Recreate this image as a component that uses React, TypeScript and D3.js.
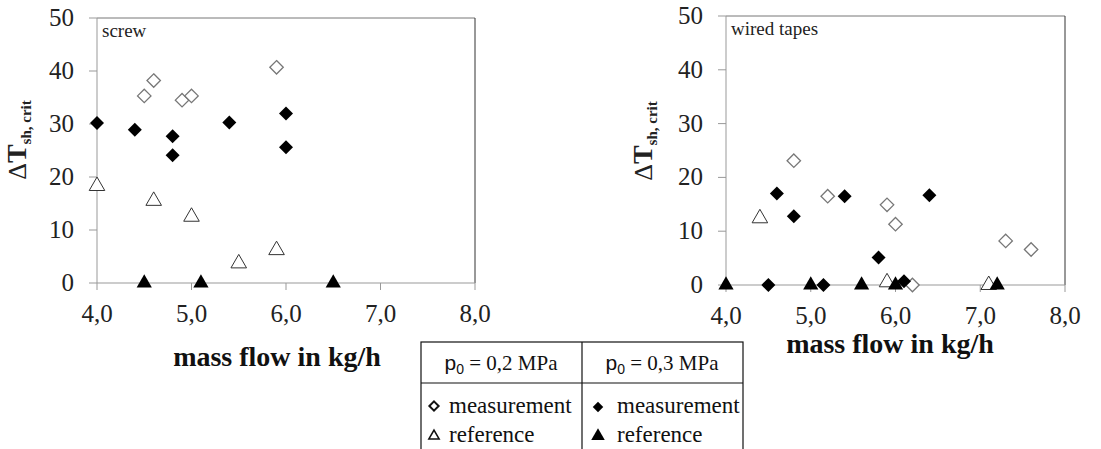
import React from 'react';
import * as d3 from 'd3';

// screw panel
const screwMeas02: [number, number][] = [[4.5, 35.3], [4.6, 38.2], [4.9, 34.5], [5.0, 35.3], [5.9, 40.7]];
const screwRef02: [number, number][] = [[4.0, 18.3], [4.6, 15.5], [5.0, 12.5], [5.5, 3.7], [5.9, 6.2]];
const screwMeas03: [number, number][] = [[4.0, 30.2], [4.4, 28.9], [4.8, 27.7], [4.8, 24.1], [5.4, 30.3], [6.0, 32.0], [6.0, 25.6]];
const screwRef03: [number, number][] = [[4.5, 0], [5.1, 0], [6.5, 0]];

// wired tapes panel
const tapeMeas02: [number, number][] = [[4.8, 23.1], [5.2, 16.5], [5.9, 14.9], [6.0, 11.3], [6.2, 0], [7.3, 8.2], [7.6, 6.6]];
const tapeRef02: [number, number][] = [[4.4, 12.4], [5.9, 0.5], [7.1, 0]];
const tapeMeas03: [number, number][] = [[4.6, 17.0], [4.8, 12.8], [5.4, 16.5], [5.8, 5.1], [6.4, 16.7], [4.5, 0], [5.15, 0], [6.1, 0.7]];
const tapeRef03: [number, number][] = [[4.0, 0], [5.0, 0], [5.6, 0], [6.0, 0], [7.2, 0]];

const xTicks = [4, 5, 6, 7, 8];
const yTicks = [0, 10, 20, 30, 40, 50];
const xTitle = 'mass flow in kg/h';

const serif = "'Liberation Serif', 'Times New Roman', Times, serif";
const sans = "'Liberation Sans', Arial, sans-serif";

const diamond = d3.symbol().type(d3.symbolDiamond2);
const triangle = d3.symbol().type(d3.symbolTriangle);

const fmt = (v: number) => d3.format('.1f')(v).replace('.', ',');

type PanelProps = {
  x0: number; x1: number; y0: number; y1: number;
  label: string;
  titleX: number;
  titleY: number;
  yTitleX: number;
  yTitleY: number;
  meas02: [number, number][]; ref02: [number, number][];
  meas03: [number, number][]; ref03: [number, number][];
};

function Panel(p: PanelProps) {
  const x = d3.scaleLinear().domain([4, 8]).range([p.x0, p.x1]);
  const y = d3.scaleLinear().domain([0, 50]).range([p.y0, p.y1]);
  return (
    <g>
      {/* frame */}
      <line x1={x(4)} x2={x(8)} y1={y(50)} y2={y(50)} stroke="#777" strokeWidth={1} />
      <line x1={x(8)} x2={x(8)} y1={y(50)} y2={y(0)} stroke="#333" strokeWidth={1} />
      <line x1={x(4)} x2={x(4)} y1={y(50)} y2={y(0)} stroke="#999" strokeWidth={1} />
      <line x1={x(4)} x2={x(8)} y1={y(0)} y2={y(0)} stroke="#999" strokeWidth={1} />
      {yTicks.map((t) => (
        <g key={'y' + t}>
          <line x1={x(4) - 8} x2={x(4)} y1={y(t)} y2={y(t)} stroke="#999" />
          <text x={x(4) - 23} y={y(t) + 8} textAnchor="end" style={{ fontSize: 25, fontFamily: serif }} fill="#222">{t}</text>
        </g>
      ))}
      {xTicks.map((t) => (
        <g key={'x' + t}>
          <line x1={x(t)} x2={x(t)} y1={y(0)} y2={y(0) + 7} stroke="#999" />
          <text x={x(t)} y={y(0) + 39} textAnchor="middle" style={{ fontSize: 25, fontFamily: serif }} fill="#222">{fmt(t)}</text>
        </g>
      ))}
      <text x={x(4) + 5} y={y(50) + 19} style={{ fontSize: 19, fontFamily: serif }} fill="#222">{p.label}</text>
      <text x={p.titleX} y={p.titleY} textAnchor="middle" style={{ fontSize: 28, fontWeight: 'bold', fontFamily: serif }} fill="#111">{xTitle}</text>
      <text transform={`translate(${p.yTitleX},${p.yTitleY}) rotate(-90)`} textAnchor="middle" style={{ fontFamily: serif }} fill="#222">
        <tspan style={{ fontSize: 26 }}>Δ</tspan>
        <tspan style={{ fontSize: 28, fontWeight: 'bold' }}>T</tspan>
        <tspan style={{ fontSize: 15, fontWeight: 'bold' }} dy={5}>sh, crit</tspan>
      </text>
      {/* markers */}
      {p.ref02.map((d, i) => (
        <path key={'r2' + i} d={triangle.size(105)() as string} transform={`translate(${x(d[0])},${y(d[1])})`} fill="#fff" stroke="#333" strokeWidth={1} />
      ))}
      {p.meas02.map((d, i) => (
        <path key={'m2' + i} d={diamond.size(115)() as string} transform={`translate(${x(d[0])},${y(d[1])})`} fill="#fff" stroke="#777" strokeWidth={1.3} />
      ))}
      {p.ref03.map((d, i) => (
        <path key={'r3' + i} d={triangle.size(100)() as string} transform={`translate(${x(d[0])},${y(d[1])})`} fill="#000" />
      ))}
      {p.meas03.map((d, i) => (
        <path key={'m3' + i} d={diamond.size(125)() as string} transform={`translate(${x(d[0])},${y(d[1])})`} fill="#000" />
      ))}
    </g>
  );
}

export default function App(): JSX.Element {
  return (
    <svg width={1101} height={449} style={{ position: 'absolute', left: 0, top: 0, background: '#fff', fontFamily: serif }}>
      <rect width={1101} height={449} fill="#fff" />
      <Panel x0={97} x1={475} y0={283} y1={18} label="screw" titleX={277} titleY={366} yTitleX={26} yTitleY={140}
        meas02={screwMeas02} ref02={screwRef02} meas03={screwMeas03} ref03={screwRef03} />
      <Panel x0={726} x1={1065} y0={285} y1={16} label="wired tapes" titleX={890} titleY={353} yTitleX={652} yTitleY={141}
        meas02={tapeMeas02} ref02={tapeRef02} meas03={tapeMeas03} ref03={tapeRef03} />
      {/* legend table */}
      <g fill="#111">
        <rect x={421} y={342} width={322} height={120} fill="#fff" stroke="#111" strokeWidth={1.2} />
        <line x1={421} x2={743} y1={383} y2={383} stroke="#111" strokeWidth={1.2} />
        <line x1={582} x2={582} y1={342} y2={449} stroke="#111" strokeWidth={1.2} />
        <text x={501} y={370} textAnchor="middle" style={{ fontSize: 21, fontFamily: serif }}>
          <tspan style={{ fontFamily: sans }}>p</tspan><tspan style={{ fontFamily: sans, fontSize: 14 }} dy={4}>0</tspan><tspan dy={-4}> = 0,2 MPa</tspan>
        </text>
        <text x={662} y={370} textAnchor="middle" style={{ fontSize: 21, fontFamily: serif }}>
          <tspan style={{ fontFamily: sans }}>p</tspan><tspan style={{ fontFamily: sans, fontSize: 14 }} dy={4}>0</tspan><tspan dy={-4}> = 0,3 MPa</tspan>
        </text>
        <path d={diamond.size(55)() as string} transform="translate(434,406)" fill="#fff" stroke="#111" strokeWidth={2} />
        <text x={449} y={413} style={{ fontSize: 23, fontFamily: serif }}>measurement</text>
        <path d={triangle.size(45)() as string} transform="translate(434,436)" fill="#fff" stroke="#111" strokeWidth={1.6} />
        <text x={449} y={442} style={{ fontSize: 23, fontFamily: serif }}>reference</text>
        <path d={diamond.size(70)() as string} transform="translate(598,407)" fill="#000" />
        <text x={617} y={413} style={{ fontSize: 23, fontFamily: serif }}>measurement</text>
        <path d={triangle.size(80)() as string} transform="translate(598,436)" fill="#000" />
        <text x={617} y={442} style={{ fontSize: 23, fontFamily: serif }}>reference</text>
      </g>
    </svg>
  );
}
